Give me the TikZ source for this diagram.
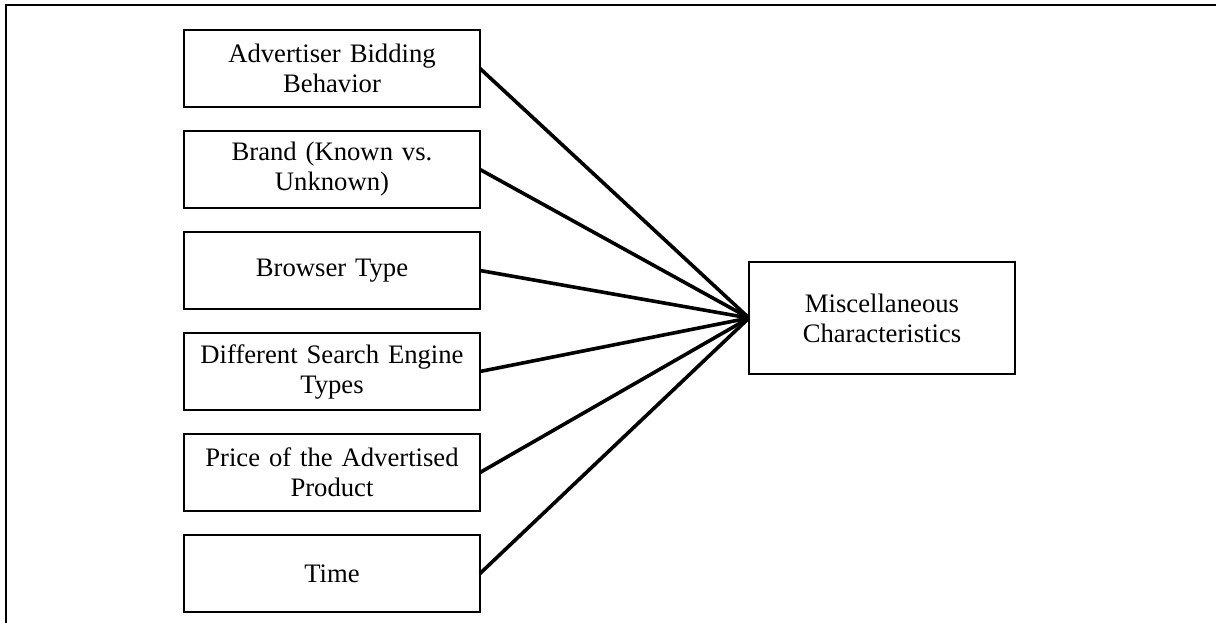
\documentclass[tikz,border=0pt]{standalone}
\usepackage{fontspec}
\setmainfont{Liberation Serif}
\usepackage{tikz}
\usetikzlibrary{positioning}

\begin{document}
\begin{tikzpicture}[x=0.75pt,y=-0.75pt,
    factor/.style={draw, line width=1.2pt, outer sep=0pt, text width=210pt, inner xsep=6pt,
      minimum height=57.75pt, align=center, font=\fontsize{20}{22.5}\selectfont},
    topic/.style={draw, line width=1.2pt, outer sep=0pt, minimum width=199.5pt, minimum height=84pt,
      align=center, font=\fontsize{20}{22.5}\selectfont},
    link/.style={line width=2.7pt},
    node distance=18pt]
  \useasboundingbox (0,0) rectangle (1216,623);
  \draw[line width=1.8pt] (6,623) -- (6,5) -- (1216,5);

  \node[factor] (bid) at (332,68.5) {Advertiser Bidding\\Behavior};
  \node[factor, below=of bid] (brand) {Brand (Known vs.\\Unknown)};
  \node[factor, below=of brand] (browser) {Browser Type};
  \node[factor, below=of browser] (engine) {Different Search Engine\\Types};
  \node[factor, below=of engine] (price) {Price of the Advertised\\Product};
  \node[factor, below=of price] (time) {Time};

  \node[topic] (misc) at (882,318) {Miscellaneous\\Characteristics};

  \foreach \n in {bid,brand,browser,engine,price,time}
    \draw[link] (\n.east) -- (misc.west);
\end{tikzpicture}
\end{document}
